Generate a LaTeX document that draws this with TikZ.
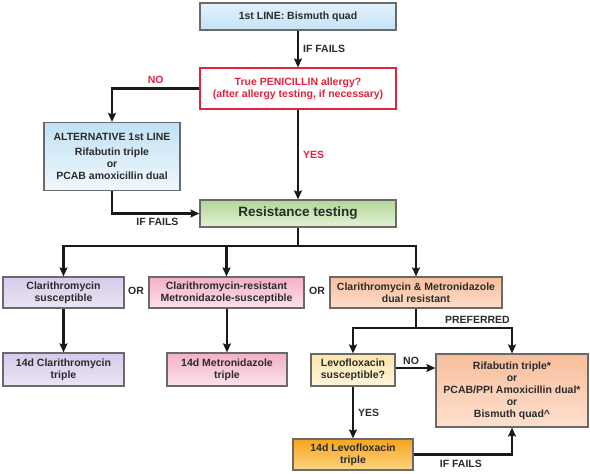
\documentclass[tikz,border=0pt]{standalone}
\usepackage{fontspec}
\setmainfont{Liberation Sans}
\usetikzlibrary{arrows.meta,shadings}
\definecolor{txt}{HTML}{2B2B2B}
\definecolor{frame}{HTML}{6A6A6A}
\definecolor{redc}{HTML}{E2233F}
\tikzset{
  box/.style={draw=frame, line width=1.2pt, align=center, text=txt,
    font=\fontsize{10.5}{12}\selectfont\bfseries, inner sep=2pt},
  conn/.style={line width=2.2pt, draw=black!90},
  arr/.style={conn, -{Stealth[length=9pt,width=8pt,inset=1.5pt]}},
  lbl/.style={text=txt, font=\fontsize{10.5}{12}\selectfont\bfseries, inner sep=1pt},
  rlbl/.style={lbl, text=redc},
  bluebox/.style={box, top color={rgb,255:red,226;green,241;blue,251}, bottom color={rgb,255:red,196;green,227;blue,247}},
}
\begin{document}
\begin{tikzpicture}[x=1pt,y=-1pt]
\useasboundingbox[fill=white] (0,0) rectangle (590,474);
% boxes
\node[bluebox, minimum width=196pt, minimum height=27pt] (top) at (298,16.5) {1st LINE: Bismuth quad};
\node[box, draw=redc, text=redc, fill=white, minimum width=196pt, minimum height=41pt] (pen) at (298,88.5) {True PENICILLIN allergy?\\(after allergy testing, if necessary)};
\node[box, top color={rgb,255:red,193;green,225;blue,246}, bottom color={rgb,255:red,240;green,248;blue,253}, minimum width=136pt, minimum height=68pt] (alt) at (112,156.5) {ALTERNATIVE 1st LINE\\[3pt]Rifabutin triple\\or\\PCAB amoxicillin dual};
\node[box, top color={rgb,255:red,178;green,214;blue,150}, bottom color={rgb,255:red,228;green,242;blue,216}, minimum width=196pt, minimum height=27pt, font=\fontsize{13.5}{15}\selectfont\bfseries] (res) at (298,213.5) {Resistance testing};
\node[box, top color={rgb,255:red,214;green,203;blue,234}, bottom color={rgb,255:red,234;green,228;blue,244}, minimum width=121pt, minimum height=31pt] (cs) at (63.5,292.5) {Clarithromycin\\susceptible};
\node[box, top color={rgb,255:red,244;green,176;blue,198}, bottom color={rgb,255:red,252;green,226;blue,234}, minimum width=155pt, minimum height=31pt] (cr) at (226.5,292.5) {Clarithromycin-resistant\\Metronidazole-susceptible};
\node[box, top color={rgb,255:red,249;green,190;blue,155}, bottom color={rgb,255:red,253;green,222;blue,202}, minimum width=172pt, minimum height=31pt] (dr) at (416,292.5) {Clarithromycin \& Metronidazole\\dual resistant};
\node[box, top color={rgb,255:red,214;green,203;blue,234}, bottom color={rgb,255:red,234;green,228;blue,244}, minimum width=121pt, minimum height=33pt] (ct) at (63.5,369.5) {14d Clarithromycin\\triple};
\node[box, top color={rgb,255:red,244;green,176;blue,198}, bottom color={rgb,255:red,252;green,226;blue,234}, minimum width=120pt, minimum height=33pt] (mt) at (227,369.5) {14d Metronidazole\\triple};
\node[box, top color={rgb,255:red,251;green,230;blue,172}, bottom color={rgb,255:red,255;green,245;blue,218}, minimum width=84pt, minimum height=32pt] (ls) at (353,370) {Levofloxacin\\susceptible?};
\node[box, top color={rgb,255:red,249;green,190;blue,155}, bottom color={rgb,255:red,253;green,224;blue,206}, minimum width=152pt, minimum height=73pt] (big) at (512,390.5) {Rifabutin triple*\\or\\PCAB/PPI Amoxicillin dual*\\or\\Bismuth quad\textasciicircum};
\node[box, top color={rgb,255:red,246;green,164;blue,30}, bottom color={rgb,255:red,253;green,212;blue,130}, minimum width=120pt, minimum height=31pt] (lt) at (353,454.5) {14d Levofloxacin\\triple};
% junctions
\coordinate (j1) at (298,246);
\coordinate (j2) at (416,328);
\coordinate (ny) at (0,368);
% connectors
\draw[arr] (top.south) -- node[lbl, right=3pt] {IF FAILS} (pen.north);
\draw[arr] (pen.west) -| node[rlbl, pos=0.25, above=3pt] {NO} (alt.north);
\draw[arr] (pen.south) -- node[rlbl, right=3pt] {YES} (res.north);
\draw[arr] (alt.south) |- node[lbl, pos=0.76, below=3pt] {IF FAILS} (res.west);
\draw[conn] (res.south) -- (j1);
\draw[arr] (j1) -| (cs.north);
\draw[arr] (j1) -| (dr.north);
\draw[arr] (cr.north |- j1) -- (cr.north);
\draw[arr] (cs.south) -- (ct.north);
\draw[arr] (cr.south -| mt.north) -- (mt.north);
\draw[conn] (dr.south) -- (j2);
\draw[arr] (j2) -| (ls.north);
\draw[arr] (j2) -| node[lbl, pos=0.32, above=2pt] {PREFERRED} (big.north);
\draw[arr] (ls.east |- ny) -- node[lbl, above=1pt, pos=0.39] {NO} (big.west |- ny);
\draw[arr] (ls.south) -- node[lbl, right=3pt] {YES} (lt.north);
\draw[arr] (lt.east) -| node[lbl, pos=0.24, below=4pt] {IF FAILS} (big.south);
% OR labels
\node[lbl] (or1) at (136,291) {OR};
\node[lbl] (or2) at (317,291) {OR};
\end{tikzpicture}
\end{document}
